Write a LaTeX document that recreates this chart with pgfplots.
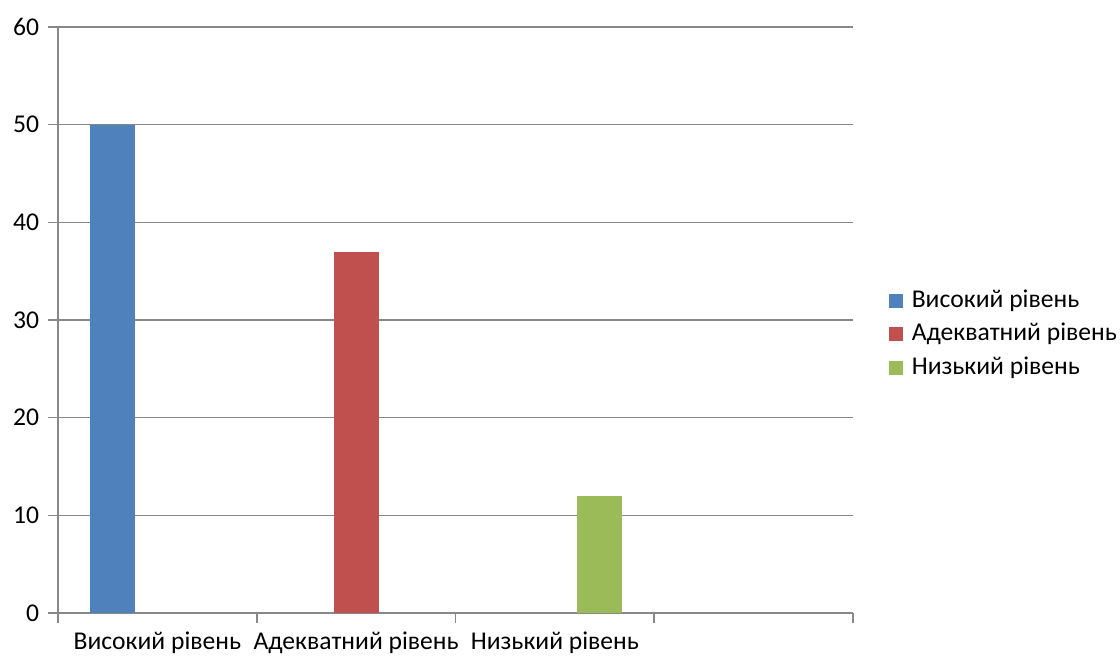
\documentclass[border=0pt]{standalone}
\usepackage{pgfplots}
\pgfplotsset{compat=1.18}
\usepackage{fontspec}
\setmainfont{Carlito}
\definecolor{gridgray}{HTML}{888888}
\definecolor{sblue}{HTML}{4F81BD}
\definecolor{sred}{HTML}{C0504D}
\definecolor{sgreen}{HTML}{9BBB59}
\begin{document}
\fontsize{12.8}{15}\selectfont
\begin{tikzpicture}
\useasboundingbox (0,0) rectangle (560pt,328.5pt);
\begin{axis}[
  at={(29pt,22pt)}, anchor=south west,
  scale only axis,
  width=397.5pt, height=293pt,
  xmin=-0.5, xmax=3.5, ymin=0, ymax=60,
  ytick={0,10,20,30,40,50,60},
  xtick={0,1,2},
  xticklabels={Високий рівень, Адекватний рівень, Низький рівень},
  minor xtick={-0.5,0.5,1.5,2.5,3.5},
  major x tick style={draw=none},
  minor x tick style={draw=gridgray, line width=0.8pt},
  minor tick length=5pt,
  major tick length=5pt,
  tick align=outside,
  axis x line*=bottom, axis y line*=left,
  axis line style={draw=gridgray, line width=0.8pt},
  ytick style={draw=gridgray, line width=0.8pt},
  ymajorgrids,
  grid style={draw=gridgray, line width=0.8pt},
  /pgf/number format/assume math mode=true,
  tick label style={font=\fontsize{12.8}{15}\selectfont},
  ybar, bar width=22.5pt,
  legend style={at={(1.037,0.476)}, anchor=west, draw=none, fill=none,
    font=\fontsize{12.8}{15}\selectfont, row sep=2pt},
  legend cell align=left,
  legend image code/.code={\fill[#1] (0pt,-3.5pt) rectangle (7pt,3.5pt); \path (9.5pt,0pt);},
]
\addplot[fill=sblue, draw=none, bar shift=-22.25pt] coordinates {(0,50)};
\addplot[fill=sred, draw=none, bar shift=0pt] coordinates {(1,37)};
\addplot[fill=sgreen, draw=none, bar shift=22.25pt] coordinates {(2,12)};
\legend{Високий рівень, Адекватний рівень, Низький рівень}
\end{axis}
\end{tikzpicture}
\end{document}
